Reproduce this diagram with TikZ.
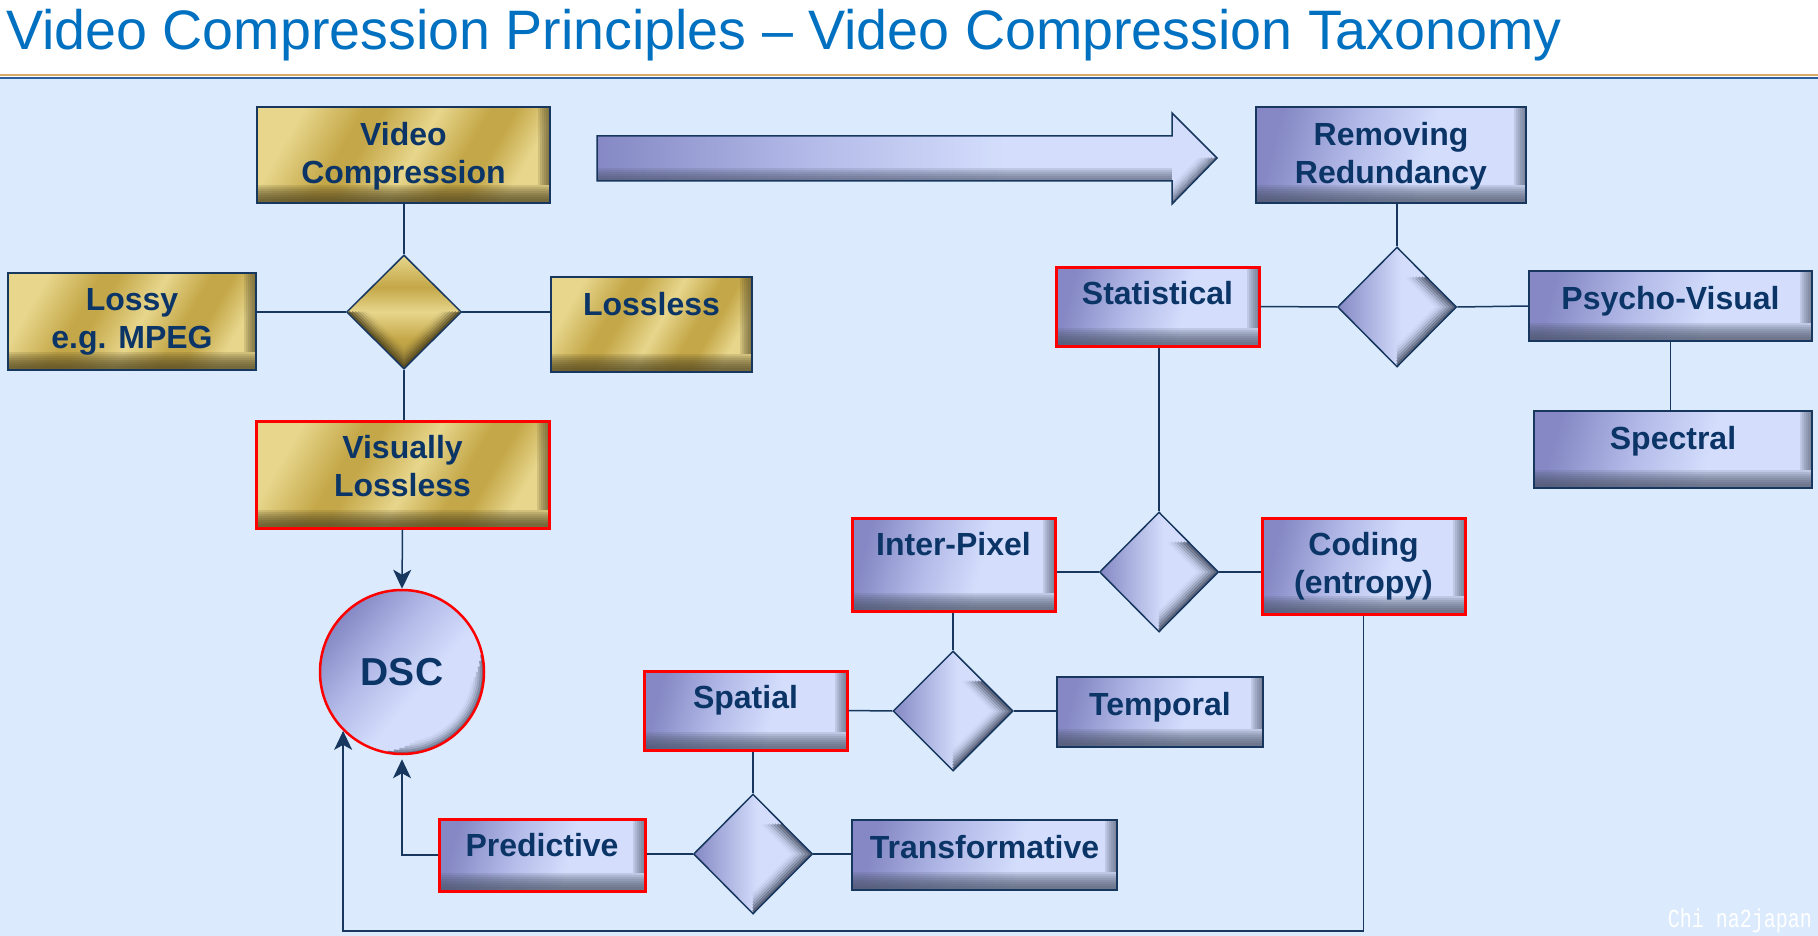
\documentclass[tikz,border=0pt]{standalone}
\usepackage{fontspec}
\setmainfont{Liberation Sans}
\newfontfamily\wmfont{Liberation Mono}
\usetikzlibrary{shapes.geometric,arrows.meta,calc}

\definecolor{linenavy}{HTML}{17375E}
\definecolor{boxtxt}{HTML}{0B3467}
\definecolor{titleblue}{HTML}{0070C0}
\definecolor{slidebg}{HTML}{DBEBFD}
\definecolor{rulebrown}{HTML}{D9A96A}
\definecolor{ruleblue}{HTML}{2E5E9E}
\definecolor{goldlt}{HTML}{E7D68C}
\definecolor{golddk}{HTML}{C4A748}
\definecolor{goldlow}{HTML}{A88F3C}
\definecolor{goldbev}{HTML}{4F4420}
\definecolor{bluedk}{HTML}{8588C4}
\definecolor{bluemd}{HTML}{B3BAE8}
\definecolor{bluelt}{HTML}{D4DEFC}
\definecolor{bluebev}{HTML}{4A5368}

\pgfdeclarehorizontalshading{goldshade}{100bp}{color(0bp)=(goldlt); color(25bp)=(goldlt); color(37bp)=(golddk); color(41bp)=(golddk); color(52bp)=(goldlt); color(62bp)=(golddk); color(67bp)=(golddk); color(75bp)=(goldlt); color(100bp)=(goldlt)}
\pgfdeclarehorizontalshading{blueshade}{100bp}{color(0bp)=(bluedk); color(25bp)=(bluedk); color(42bp)=(bluemd); color(58bp)=(bluelt); color(100bp)=(bluelt)}
\pgfdeclarehorizontalshading{bluediashade}{100bp}{color(0bp)=(bluedk); color(25bp)=(bluedk); color(52bp)=(bluelt); color(75bp)=(bluelt); color(100bp)=(bluelt)}
\pgfdeclareverticalshading{golddiashade}{100bp}{color(0bp)=(goldlow); color(25bp)=(goldlow); color(38bp)=(golddk); color(50bp)=(goldlt); color(61bp)=(golddk); color(75bp)=(goldlt); color(100bp)=(goldlt)}

% dark rim along the lower and right edges
\newcommand\boxbevel[1]{%
  \foreach \k in {4,6,...,18}{
    \fill[#1, opacity=.15] (path picture bounding box.south west) rectangle
      ([yshift=\k pt]path picture bounding box.south east);}
  \foreach \k in {2,4,...,12}{
    \fill[#1, opacity=.15] ([xshift=-\k pt]path picture bounding box.north east) rectangle
      ([yshift=18pt]path picture bounding box.south east);}}
\newcommand\goldrim{%
  \foreach \k/\o in {2/.85,5/.65,8/.48,11/.33,14/.2,17/.1,20/.04}{
    \draw[goldbev, opacity=\o, line width=2.4pt]
      ([xshift=\k pt]path picture bounding box.west) --
      ([yshift=\k pt]path picture bounding box.south) --
      ([xshift=-\k pt]path picture bounding box.east);}}
\newcommand\bluerim{%
  \foreach \k/\o in {2/.85,5/.65,8/.48,11/.33,14/.2,17/.1,20/.04}{
    \draw[bluebev, opacity=\o, line width=2.4pt]
      ($(path picture bounding box.north)!.5!(path picture bounding box.east)+(-\k pt,0)$) --
      ([xshift=-\k pt]path picture bounding box.east) --
      ([yshift=\k pt]path picture bounding box.south);}}

\tikzset{
  conn/.style={draw=linenavy, line width=1.5pt},
  arr/.style={conn, -{Stealth[length=19pt,width=18pt,inset=5pt]}},
  boxtext/.style={anchor=north, yshift=-16pt, inner sep=0pt, align=center,
    text=boxtxt, font=\fontsize{32}{38}\bfseries\selectfont},
  goldbox/.style={rectangle, draw=linenavy, line width=2pt, inner sep=0pt,
    shade, shading=goldshade, shading angle=-30, path picture={\boxbevel{goldbev}}},
  bluebox/.style={rectangle, draw=linenavy, line width=2pt, inner sep=0pt,
    shade, shading=blueshade, shading angle=-15, path picture={\boxbevel{bluebev}}},
  golddia/.style={diamond, draw=linenavy, line width=1.5pt, inner sep=0pt,
    shade, shading=golddiashade, path picture={\goldrim}},
  bluedia/.style={diamond, draw=linenavy, line width=1.5pt, inner sep=0pt,
    shade, shading=bluediashade, path picture={\bluerim}},
  redrim/.style={draw=red, line width=3pt},
}

\begin{document}
\begin{tikzpicture}[x=1pt,y=1pt]
\useasboundingbox (0,0) rectangle (1818,-936);
\fill[white] (0,0) rectangle (1818,-76);
\fill[slidebg] (0,-78) rectangle (1818,-936);
\draw[rulebrown, line width=2pt] (0,-75.5) -- (1818,-75.5);
\draw[ruleblue, line width=2.2pt] (0,-77.8) -- (1818,-77.8);

\node[anchor=base west, inner sep=0pt, text=titleblue, font=\fontsize{55.6}{60}\selectfont]
  (title) at (6,-50) {Video Compression Principles -- Video Compression Taxonomy};

% gold side
\node[goldbox, minimum width=293pt, minimum height=96pt,
  label={[boxtext]north:{Video\\Compression}}] (vidc) at (403.5,-155) {};
\node[goldbox, minimum width=248pt, minimum height=97pt,
  label={[boxtext]north:{Lossy\\e.g. MPEG}}] (lossy) at (132,-321.5) {};
\node[goldbox, minimum width=201pt, minimum height=95pt,
  label={[boxtext]north:{Lossless}}] (lossless) at (651.5,-324.5) {};
\node[goldbox, redrim, minimum width=293pt, minimum height=107pt,
  label={[boxtext]north:{Visually\\Lossless}}] (vislos) at (402.5,-474.5) {};
\node[golddia, minimum width=115pt, minimum height=114pt] (d1) at (404,-312) {};

% big arrow
\coordinate (arrbl) at (597,-181);
\coordinate (arrbr) at (1172,-181);
\coordinate (arrtip) at (1217,-158);
\coordinate (arrhb) at (1172,-204);
\path[shade, shading=blueshade, draw=linenavy, line width=1.5pt,
  path picture={
    \foreach \k in {3,5,...,13}{
      \fill[bluebev, opacity=.15] ([yshift=-30pt]arrbl) rectangle ([yshift=\k pt]arrbr);}
    \foreach \k/\o in {1/.75,3/.55,5/.38,7/.24,9/.12,11/.05}{
      \draw[bluebev, opacity=\o, line width=2.2pt] ([xshift=-1.6*\k pt]arrtip) -- ([yshift=1.6*\k pt]arrhb);}}]
  (597,-136) -- (1172,-136) -- (1172,-113) -- (arrtip) -- (arrhb) -- (arrbr) -- (arrbl) -- cycle;

% blue side
\node[bluebox, minimum width=270pt, minimum height=96pt,
  label={[boxtext]north:{Removing\\Redundancy}}] (remred) at (1391,-155) {};
\node[bluebox, redrim, minimum width=203pt, minimum height=79pt,
  label={[boxtext]north:{Statistical}}] (stat) at (1157.5,-306.5) {};
\node[bluebox, minimum width=283pt, minimum height=70pt,
  label={[boxtext]north:{Psycho-Visual}}] (psycho) at (1670.5,-306) {};
\node[bluebox, minimum width=278pt, minimum height=77pt,
  label={[boxtext]north:{Spectral}}] (spect) at (1673,-449.5) {};
\node[bluebox, redrim, minimum width=203pt, minimum height=93pt,
  label={[boxtext]north:{Inter-Pixel}}] (inter) at (953.5,-564.5) {};
\node[bluebox, redrim, minimum width=203pt, minimum height=96pt,
  label={[boxtext]north:{Coding\\(entropy)}}] (coding) at (1363.5,-566) {};
\node[bluebox, redrim, minimum width=203pt, minimum height=79pt,
  label={[boxtext]north:{Spatial}}] (spatial) at (745.5,-710.5) {};
\node[bluebox, minimum width=206pt, minimum height=70pt,
  label={[boxtext]north:{Temporal}}] (temporal) at (1160,-712) {};
\node[bluebox, redrim, minimum width=206pt, minimum height=72pt,
  label={[boxtext]north:{Predictive}}] (pred) at (542,-855) {};
\node[bluebox, minimum width=265pt, minimum height=70pt,
  label={[boxtext]north:{Transformative}}] (transf) at (984.5,-855) {};

\node[bluedia, minimum width=119pt, minimum height=120pt] (d2) at (1397,-307) {};
\node[bluedia, minimum width=119pt, minimum height=120pt] (d3) at (1159,-572) {};
\node[bluedia, minimum width=120pt, minimum height=120pt] (d4) at (953,-711) {};
\node[bluedia, minimum width=119pt, minimum height=120pt] (d5) at (753,-854) {};

\node[circle, draw=red, line width=2.5pt, minimum size=164pt, inner sep=0pt,
  shade, shading=blueshade, shading angle=-40, text=boxtxt,
  font=\fontsize{39}{44}\bfseries\selectfont,
  path picture={
    \foreach \k/\a/\b/\o in {1/-100/12/.75,3/-96/8/.55,5/-92/4/.38,7/-88/0/.24,9/-84/-4/.12,11/-80/-8/.05}{
      \draw[bluebev, opacity=\o, line width=2.2pt]
        ([shift={(\a:82-\k)}]path picture bounding box.center) arc[start angle=\a, end angle=\b, radius=82-\k];}}]
  (dsc) at (402,-672) {DSC};

% connectors
\draw[conn] (d1.north |- vidc.south) -- (d1.north);
\draw[conn] (d1.west -| lossy.east) -- (d1.west);
\draw[conn] (d1.east) -- (d1.east -| lossless.west);
\draw[conn] (d1.south) -- (d1.south |- vislos.north);
\draw[arr] (vislos.south) -- (dsc.north);

\draw[conn] (d2.north |- remred.south) -- (d2.north);
\draw[conn] (stat.east) -- (d2.west);
\draw[conn] (d2.east) -- (psycho.west);
\draw[conn] (psycho.south) -- (psycho.south |- spect.north);
\draw[conn] (d3.north |- stat.south) -- (d3.north);
\draw[conn] (d3.west -| inter.east) -- (d3.west);
\draw[conn] (d3.east) -- (d3.east -| coding.west);
\draw[conn] (d4.north |- inter.south) -- (d4.north);
\draw[conn] (spatial.east) -- (d4.west);
\draw[conn] (d4.east) -- (d4.east -| temporal.west);
\draw[conn] (d5.north |- spatial.south) -- (d5.north);
\draw[conn] (d5.west -| pred.east) -- (d5.west);
\draw[conn] (d5.east) -- (d5.east -| transf.west);

\draw[arr] (pred.west) -| ([yshift=-4pt]dsc.south);
\coordinate (loopc) at (1363.5,-931);
\draw[arr] (coding.south) -- (loopc) -| (dsc.south west);

\node[anchor=base east, inner sep=0pt, text=white, font=\wmfont\fontsize{20}{20}\selectfont]
  (mark) at (1812,-927) {\scalebox{1}[1.3]{Chi na2japan}};
\end{tikzpicture}
\end{document}
